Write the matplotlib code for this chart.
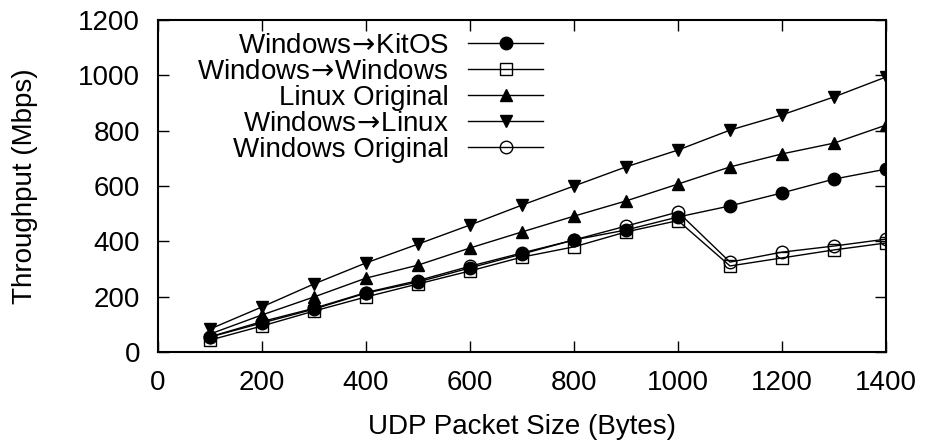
import matplotlib
matplotlib.use("Agg")
import matplotlib.pyplot as plt

plt.rcParams['font.family'] = ['Liberation Sans', 'DejaVu Sans']

# packet sizes (bytes)
sizes = [100, 200, 300, 400, 500, 600, 700, 800, 900, 1000, 1100, 1200, 1300, 1400]

win_kitos = [54, 105, 155, 213, 253, 304, 354, 405, 441, 488, 528, 575, 625, 661]
win_win = [43, 94, 148, 199, 246, 293, 343, 380, 434, 475, 311, 340, 369, 394]
linux_orig = [65, 134, 199, 267, 314, 376, 434, 491, 546, 607, 669, 716, 755, 820]
win_linux = [83, 163, 246, 322, 390, 459, 531, 600, 669, 730, 802, 857, 922, 994]
win_orig = [55, 110, 158, 215, 258, 310, 358, 405, 455, 506, 325, 361, 383, 408]

fig = plt.figure(figsize=(9.25, 4.45), dpi=100)
ax = fig.add_axes([158/925, 1 - 352/445, (886-158)/925, (352-20)/445])

arrow = r'$\!\rightarrow\!$'
kw = dict(color='black', lw=1.0, ms=9, mec='black', mew=1.0)
ax.plot(sizes, win_kitos, marker='o', mfc='black', label='Windows' + arrow + 'KitOS', **kw)
ax.plot(sizes, win_win, marker='s', mfc='none', label='Windows' + arrow + 'Windows', **kw)
ax.plot(sizes, linux_orig, marker='^', mfc='black', label='Linux Original', **kw)
ax.plot(sizes, win_linux, marker='v', mfc='black', label='Windows' + arrow + 'Linux', **kw)
ax.plot(sizes, win_orig, marker='o', mfc='none', label='Windows Original', **kw)

ax.set_xlim(0, 1400)
ax.set_ylim(0, 1200)
ax.set_xticks(range(0, 1401, 200))
ax.set_yticks(range(0, 1201, 200))
ax.tick_params(direction='in', top=True, right=True, length=8, width=1, labelsize=20)
ax.tick_params(axis='y', pad=13)
ax.tick_params(axis='x', pad=13)
for s in ax.spines.values():
    s.set_linewidth(1.5)

ax.set_xlabel('UDP Packet Size (Bytes)', fontsize=20, labelpad=13)
ax.set_ylabel('Throughput (Mbps)', fontsize=20, labelpad=29)

leg = ax.legend(loc='upper right', bbox_to_anchor=((543-158)/728, 0.962), frameon=False,
                markerfirst=False, fontsize=20, handlelength=2.7,
                labelspacing=0.0, handletextpad=0.7, borderaxespad=0, borderpad=0)
# right-align the rows so the text ends next to the sample lines
for col in leg._legend_handle_box.get_children():
    col.align = 'right'

fig.savefig('out.png', dpi=100)
